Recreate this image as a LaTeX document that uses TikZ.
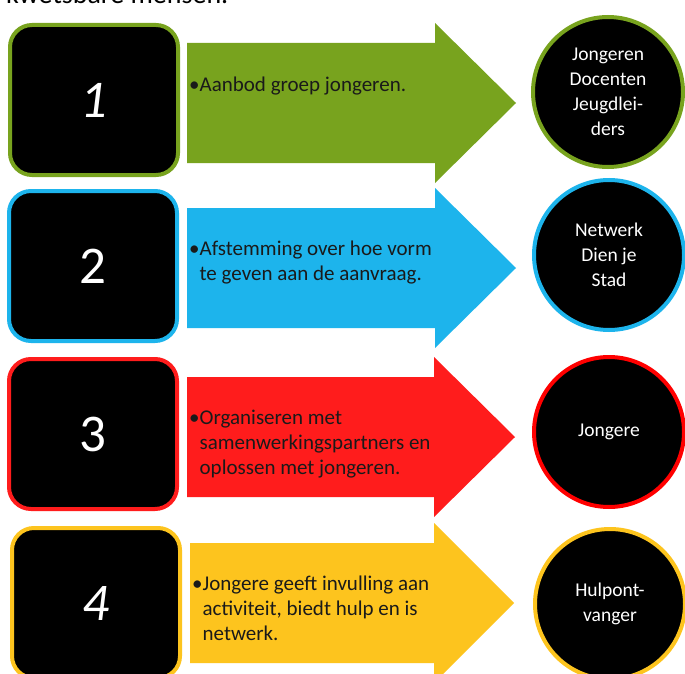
\documentclass[tikz,border=0pt]{standalone}
\usepackage{fontspec}
\setmainfont{Carlito}
\usetikzlibrary{positioning}
\definecolor{StepGreen}{HTML}{78A31E}
\definecolor{StepBlue}{HTML}{1DB4EC}
\definecolor{StepRed}{HTML}{FF1C1C}
\definecolor{StepYellow}{HTML}{FDC41E}
\definecolor{TextDark}{HTML}{1A1A1A}
\newcommand{\pt}{\strut\textbullet}
\newcommand{\ind}{\hphantom{\textbullet}}
\tikzset{
  numbox/.style={
    rectangle, rounded corners=22pt, fill=black, draw=#1,
    line width=4pt, minimum width=168pt, minimum height=150pt,
    text=white, font=\fontsize{53}{60}\selectfont
  },
  role/.style={
    circle, fill=black, draw=#1, line width=4pt,
    minimum size=150pt, inner sep=0pt, align=center,
    text=white, font=\fontsize{19.5}{25}\selectfont
  },
  steptext/.style={
    anchor=north west, align=left, inner sep=0pt,
    text=TextDark, font=\fontsize{21}{25}\selectfont
  },
}

\begin{document}
\begin{tikzpicture}[x=1pt, y=-1pt]
\clip (0,0) rectangle (685,674);
\fill[white] (0,0) rectangle (685,674);

% cut-off line of the page above
\node[anchor=base west, inner sep=0pt, font=\fontsize{28}{30}\selectfont] (kop) at (6,4) {kwetsbare mensen.};

% row 1
\node[numbox=StepGreen] at (94,100) (n1) {\itshape 1};
\fill[StepGreen] (187,43) -- (435,43) -- (435,23) -- (516,103) -- (435,183) -- (435,163) -- (187,163) -- cycle;
\node[steptext] at (189,73.5) (t1) {\pt Aanbod groep jongeren.};
\node[role=StepGreen] at (608,92) (r1) {Jongeren\\Docenten\\Jeugdlei-\\ders};

% row 2
\node[numbox=StepBlue] at (93,266) (n2) {2};
\fill[StepBlue] (187,208) -- (435,208) -- (435,188) -- (516,268) -- (435,348) -- (435,328) -- (187,328) -- cycle;
\node[steptext] at (189,237.5) (t2) {\pt Afstemming over hoe vorm\\\ind te geven aan de aanvraag.};
\node[role=StepBlue] at (609,255) (r2) {Netwerk\\Dien je\\Stad};

% row 3
\node[numbox=StepRed] at (93,434) (n3) {3};
\fill[StepRed] (187,377) -- (434,377) -- (434,357) -- (515,437) -- (434,517) -- (434,497) -- (187,497) -- cycle;
\node[steptext] at (189,406.5) (t3) {\pt Organiseren met\\\ind samenwerkingspartners en\\\ind oplossen met jongeren.};
\node[role=red] at (609,432) (r3) {Jongere};

% row 4
\node[numbox=StepYellow] at (96,603) (n4) {\itshape 4};
\fill[StepYellow] (190,543) -- (434,543) -- (434,523) -- (514,603) -- (434,683) -- (434,663) -- (190,663) -- cycle;
\node[steptext] at (192,572.5) (t4) {\pt Jongere geeft invulling aan\\\ind activiteit, biedt hulp en is\\\ind netwerk.};
\node[role=StepYellow] at (610,604) (r4) {Hulpont-\\vanger};

\end{tikzpicture}
\end{document}
